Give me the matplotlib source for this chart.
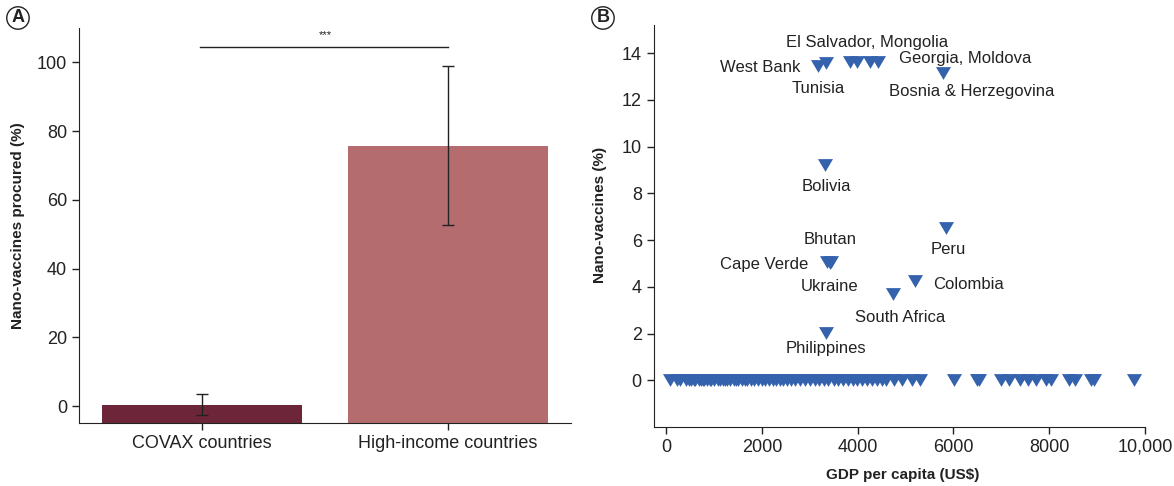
import numpy as np
import matplotlib.pyplot as plt

plt.rcParams['font.family'] = ['Liberation Sans', 'DejaVu Sans']
plt.rcParams['font.size'] = 11
plt.rcParams['text.color'] = '#222222'
plt.rcParams['axes.edgecolor'] = '#222222'
plt.rcParams['xtick.color'] = '#222222'
plt.rcParams['ytick.color'] = '#222222'

# %% data ---------------------------------------------------------------------

# panel A
groups = ['COVAX countries', 'High-income countries']
procured = np.array([0.4, 75.8])
procured_err = np.array([3.0, 23.0])
bar_colors = ['#6d2639', '#b46c6f']

# panel B: labelled countries (GDP per capita, % nano-vaccines)
named_gdp = [3170, 3340, 3840, 3980, 4260, 4420, 5780,
             3320, 5850, 3360, 3450, 3420, 5200, 4740, 3340]
named_pct = [13.44, 13.57, 13.6, 13.6, 13.6, 13.6, 13.16,
             9.2, 6.51, 5.05, 5.05, 5.0, 4.24, 3.68, 2.01]

# countries with no nano-vaccines
zero_gdp = [85, 220, 300, 410, 480, 520, 590, 610, 680, 720, 780, 800, 860,
            910, 940, 1010, 1080, 1120, 1180, 1230, 1280, 1340, 1420, 1460,
            1510, 1590, 1640, 1700, 1780, 1830, 1920, 2000, 2070, 2150, 2230,
            2290, 2380, 2450, 2530, 2600, 2690, 2800, 2900, 3010, 3100, 3190,
            3300, 3390, 3500, 3600, 3700, 3800, 3900, 3980, 4100, 4190, 4300,
            4400, 4500, 4590, 4750, 4920, 5130, 5300, 6020, 6490, 6540, 7000,
            7170, 7380, 7550, 7730, 7940, 8040, 8420, 8530, 8870, 8940, 9780]

# labels: (text, x, y)
labels = [('El Salvador, Mongolia', 4190, 14.43),
          ('Georgia, Moldova', 6250, 13.78),
          ('West Bank', 1960, 13.40),
          ('Tunisia', 3180, 12.50),
          ('Bosnia & Herzegovina', 6380, 12.35),
          ('Bolivia', 3340, 8.30),
          ('Bhutan', 3420, 6.04),
          ('Peru', 5900, 5.61),
          ('Cape Verde', 2040, 4.97),
          ('Ukraine', 3420, 4.02),
          ('Colombia', 6320, 4.11),
          ('South Africa', 4880, 2.70),
          ('Philippines', 3340, 1.37)]

# %% figure -------------------------------------------------------------------
fig = plt.figure(figsize=(11.74, 4.86), dpi=100)
axA = fig.add_axes([0.0673, 0.129, 0.4191, 0.8134])
axB = fig.add_axes([0.5567, 0.1214, 0.4186, 0.8272])

for ax in (axA, axB):
    ax.spines['top'].set_visible(False)
    ax.spines['right'].set_visible(False)
    ax.tick_params(direction='out', length=5, width=1, labelsize=13)

# %% panel A ------------------------------------------------------------------
ybot = -5
x = np.arange(len(groups))
axA.bar(x, procured - ybot, bottom=ybot, width=0.81, color=bar_colors)
axA.errorbar(x, procured, yerr=procured_err, fmt='none', ecolor='#222222',
             elinewidth=1, capsize=4, capthick=1)
axA.plot([-0.01, 1.0], [104.4, 104.4], color='#222222', lw=1)
axA.text(0.5, 106.5, '***', ha='center', va='bottom', fontsize=8)
axA.set_xlim(-0.5, 1.5)
axA.set_ylim(ybot, 110)
axA.set_xticks(x, groups)
axA.set_yticks(np.arange(0, 101, 20))
fig.text(0.0153, 0.535, 'Nano-vaccines procured (%)', rotation=90,
         ha='center', va='center', fontweight='bold')

# %% panel B ------------------------------------------------------------------
tri = [(-1, 0.85), (1, 0.85), (0, -0.85)]
axB.plot(zero_gdp, np.zeros(len(zero_gdp)), linestyle='none', marker=tri,
         ms=10.8, color='#3462ad', mew=0)
axB.plot(named_gdp, named_pct, linestyle='none', marker=tri,
         ms=10.8, color='#3462ad', mew=0)
for txt, lx, ly in labels:
    axB.text(lx, ly, txt, ha='center', va='center', fontsize=12)
axB.set_xlim(-260, 10000)
axB.set_ylim(-2, 15.2)
axB.set_xticks(np.arange(0, 10001, 2000),
               ['0', '2000', '4000', '6000', '8000', '10,000'])
axB.set_yticks(np.arange(0, 15, 2))
fig.text(0.511, 0.558, 'Nano-vaccines (%)', rotation=90,
         ha='center', va='center', fontweight='bold')
fig.text(0.769, 0.023, 'GDP per capita (US$)', ha='center', va='center',
         fontweight='bold')

# %% panel letters ------------------------------------------------------------
for px, letter in [(0.0153, 'A'), (0.5136, 'B')]:
    fig.text(px, 0.963, letter, ha='center', va='center', fontsize=13,
             fontweight='bold',
             bbox=dict(boxstyle='circle,pad=0.15', fc='white', ec='#222222',
                       lw=1))

fig.savefig('out.png', dpi=100)
